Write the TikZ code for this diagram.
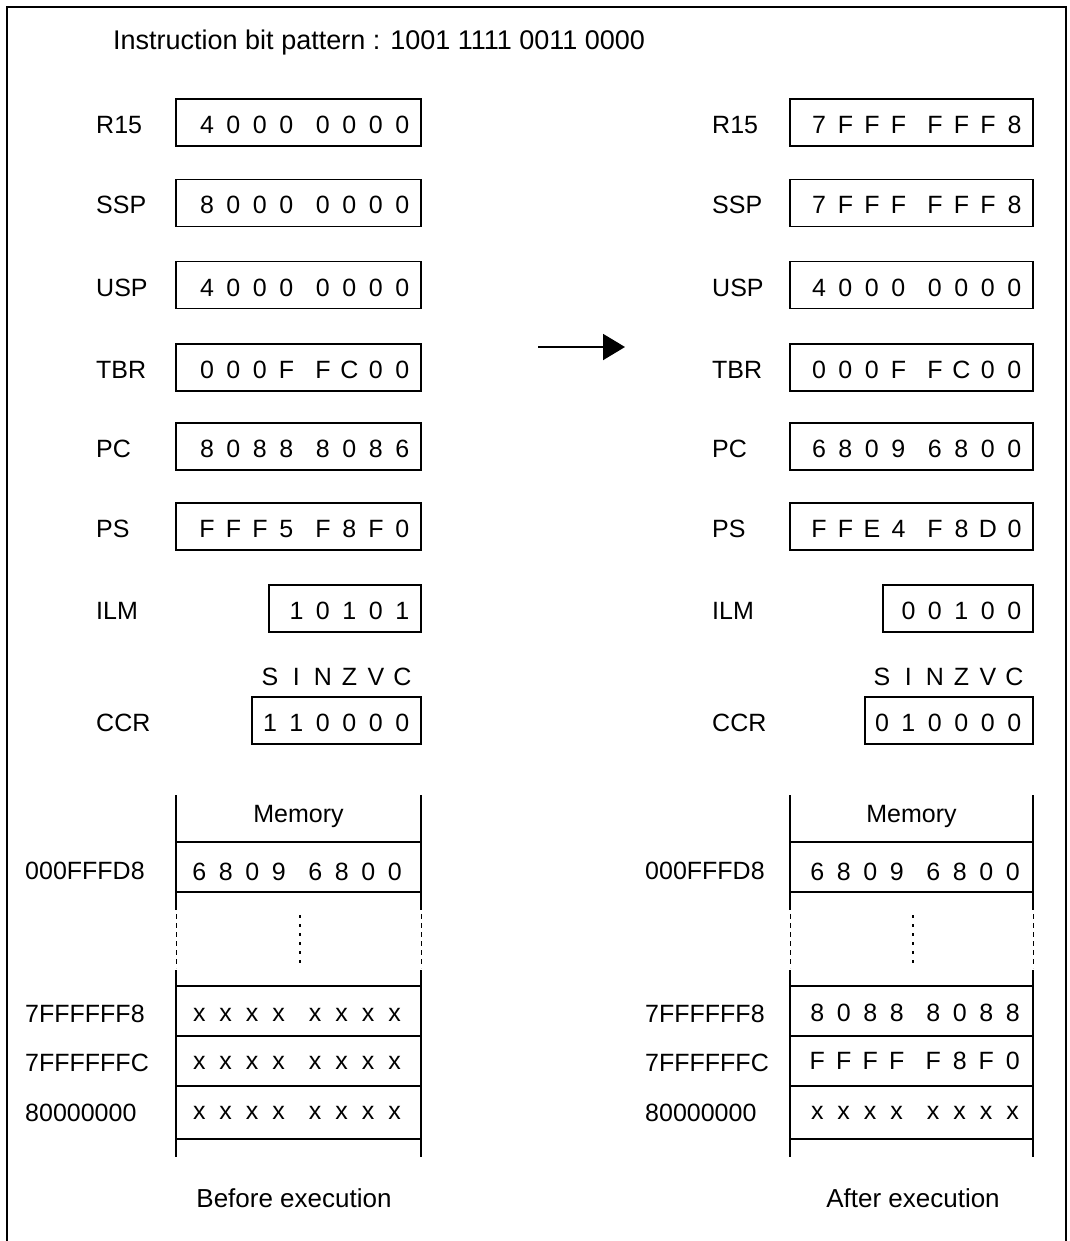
\documentclass[tikz,border=0pt]{standalone}
\usepackage{fontspec}
\setmainfont{Liberation Sans}
\usetikzlibrary{arrows.meta,calc}
\newcommand{\hexcell}[1]{\makebox[26.5pt]{#1}}
\def\spread#1{\spreadi#1\relax}
\def\spreadi#1{\ifx#1\relax\else\ifx#1-\hspace{10pt}\else\hexcell{#1}\fi\expandafter\spreadi\fi}
\tikzset{
  frameline/.style={line width=2.8pt},
  regbox/.style={draw,line width=1.3pt,minimum height=47pt,inner sep=0pt},
  txt/.style={inner sep=0pt,font=\fontsize{25}{30}\selectfont},
  lbl/.style={txt,anchor=base west},
  val/.style={txt,anchor=base east},
  memtxt/.style={txt,anchor=base},
  captxt/.style={memtxt,font=\fontsize{26}{31}\selectfont},
  memline/.style={line width=1.3pt},
  memgap/.style={line width=1pt,dash pattern=on 5pt off 4pt},
  memdots/.style={line width=2.6pt,dash pattern=on 2.6pt off 6.4pt},
  bigarrow/.style={line width=2pt,-{Triangle[length=22pt,width=26pt]}}
}
\begin{document}
\begin{tikzpicture}[x=1pt,y=-1pt]
  \useasboundingbox (0,0) rectangle (1069,1241);
  \draw[frameline] (7,1260) -- (7,7) -- (1066,7) -- (1066,1260);
  \node[lbl,font=\fontsize{27}{32}\selectfont] (title) at (113,50) {Instruction bit pattern : 1001 1111 0011 0000};
  % before execution: registers
  \node[regbox,minimum width=245pt] (bR15) at (298.5,122.5) {};
  \node[regbox,minimum width=245pt] (bSSP) at (298.5,203) {};
  \node[regbox,minimum width=245pt] (bUSP) at (298.5,285) {};
  \node[regbox,minimum width=245pt] (bTBR) at (298.5,367.5) {};
  \node[regbox,minimum width=245pt] (bPC) at (298.5,446.5) {};
  \node[regbox,minimum width=245pt] (bPS) at (298.5,526.5) {};
  \node[regbox,minimum width=152pt] (bILM) at (345,608.5) {};
  \node[regbox,minimum width=169pt] (bCCR) at (336.5,720.5) {};
  \node[lbl] at (96,133.5) {R15};
  \node[lbl] at (96,214) {SSP};
  \node[lbl] at (96,296) {USP};
  \node[lbl] at (96,378.5) {TBR};
  \node[lbl] at (96,457.5) {PC};
  \node[lbl] at (96,537.5) {PS};
  \node[lbl] at (96,619.5) {ILM};
  \node[lbl] at (96,731.5) {CCR};
  \node[val] at ($(bR15.east)+(-5.75,11)$) {\spread{4000-0000}};
  \node[val] at ($(bSSP.east)+(-5.75,11)$) {\spread{8000-0000}};
  \node[val] at ($(bUSP.east)+(-5.75,11)$) {\spread{4000-0000}};
  \node[val] at ($(bTBR.east)+(-5.75,11)$) {\spread{000F-FC00}};
  \node[val] at ($(bPC.east)+(-5.75,11)$) {\spread{8088-8086}};
  \node[val] at ($(bPS.east)+(-5.75,11)$) {\spread{FFF5-F8F0}};
  \node[val] at ($(bILM.east)+(-5.75,11)$) {\spread{10101}};
  \node[val] at ($(bCCR.east)+(-5.75,-35)$) {\spread{SINZVC}};
  \node[val] at ($(bCCR.east)+(-5.75,11)$) {\spread{110000}};
  % after execution: registers
  \node[regbox,minimum width=243pt] (aR15) at (911.5,122.5) {};
  \node[regbox,minimum width=243pt] (aSSP) at (911.5,203) {};
  \node[regbox,minimum width=243pt] (aUSP) at (911.5,285) {};
  \node[regbox,minimum width=243pt] (aTBR) at (911.5,367.5) {};
  \node[regbox,minimum width=243pt] (aPC) at (911.5,446.5) {};
  \node[regbox,minimum width=243pt] (aPS) at (911.5,526.5) {};
  \node[regbox,minimum width=150pt] (aILM) at (958,608.5) {};
  \node[regbox,minimum width=168pt] (aCCR) at (949,720.5) {};
  \node[lbl] at (712,133.5) {R15};
  \node[lbl] at (712,214) {SSP};
  \node[lbl] at (712,296) {USP};
  \node[lbl] at (712,378.5) {TBR};
  \node[lbl] at (712,457.5) {PC};
  \node[lbl] at (712,537.5) {PS};
  \node[lbl] at (712,619.5) {ILM};
  \node[lbl] at (712,731.5) {CCR};
  \node[val] at ($(aR15.east)+(-5.75,11)$) {\spread{7FFF-FFF8}};
  \node[val] at ($(aSSP.east)+(-5.75,11)$) {\spread{7FFF-FFF8}};
  \node[val] at ($(aUSP.east)+(-5.75,11)$) {\spread{4000-0000}};
  \node[val] at ($(aTBR.east)+(-5.75,11)$) {\spread{000F-FC00}};
  \node[val] at ($(aPC.east)+(-5.75,11)$) {\spread{6809-6800}};
  \node[val] at ($(aPS.east)+(-5.75,11)$) {\spread{FFE4-F8D0}};
  \node[val] at ($(aILM.east)+(-5.75,11)$) {\spread{00100}};
  \node[val] at ($(aCCR.east)+(-5.75,-35)$) {\spread{SINZVC}};
  \node[val] at ($(aCCR.east)+(-5.75,11)$) {\spread{010000}};
  % execution arrow
  \coordinate (arrS) at (538,347);
  \coordinate (arrE) at (625,347);
  \draw[bigarrow] (arrS) -- (arrE);
  % memory, before
  \draw[memline] (176,795) -- (176,910) (421,795) -- (421,910)
    (176,970) -- (176,1157) (421,970) -- (421,1157);
  \draw[memgap] (176,914) -- (176,968) (421,914) -- (421,968);
  \draw[memline] (176,842) -- (421,842) (176,892) -- (421,892)
    (176,986) -- (421,986) (176,1036) -- (421,1036)
    (176,1086) -- (421,1086) (176,1139) -- (421,1139);
  \draw[memdots] (300,915) -- (300,963);
  \node[memtxt] (bMem) at (298.5,822) {Memory};
  \node[memtxt] at (297,880) {\spread{6809-6800}};
  \node[memtxt] at (297,1021) {\spread{xxxx-xxxx}};
  \node[memtxt] at (297,1069) {\spread{xxxx-xxxx}};
  \node[memtxt] at (297,1119) {\spread{xxxx-xxxx}};
  \node[lbl] at (25,879) {000FFFD8};
  \node[lbl] at (25,1022) {7FFFFFF8};
  \node[lbl] at (25,1071) {7FFFFFFC};
  \node[lbl] at (25,1121) {80000000};
  % memory, after
  \draw[memline] (790,795) -- (790,910) (1033,795) -- (1033,910)
    (790,970) -- (790,1157) (1033,970) -- (1033,1157);
  \draw[memgap] (790,914) -- (790,968) (1033,914) -- (1033,968);
  \draw[memline] (790,842) -- (1033,842) (790,892) -- (1033,892)
    (790,986) -- (1033,986) (790,1036) -- (1033,1036)
    (790,1086) -- (1033,1086) (790,1139) -- (1033,1139);
  \draw[memdots] (913,915) -- (913,963);
  \node[memtxt] (aMem) at (911.5,822) {Memory};
  \node[memtxt] at (915,880) {\spread{6809-6800}};
  \node[memtxt] at (915,1021) {\spread{8088-8088}};
  \node[memtxt] at (915,1069) {\spread{FFFF-F8F0}};
  \node[memtxt] at (915,1119) {\spread{xxxx-xxxx}};
  \node[lbl] at (645,879) {000FFFD8};
  \node[lbl] at (645,1022) {7FFFFFF8};
  \node[lbl] at (645,1071) {7FFFFFFC};
  \node[lbl] at (645,1121) {80000000};
  % captions
  \node[captxt] (bCap) at (294,1207) {Before execution};
  \node[captxt] (aCap) at (913,1207) {After execution};
\end{tikzpicture}
\end{document}
